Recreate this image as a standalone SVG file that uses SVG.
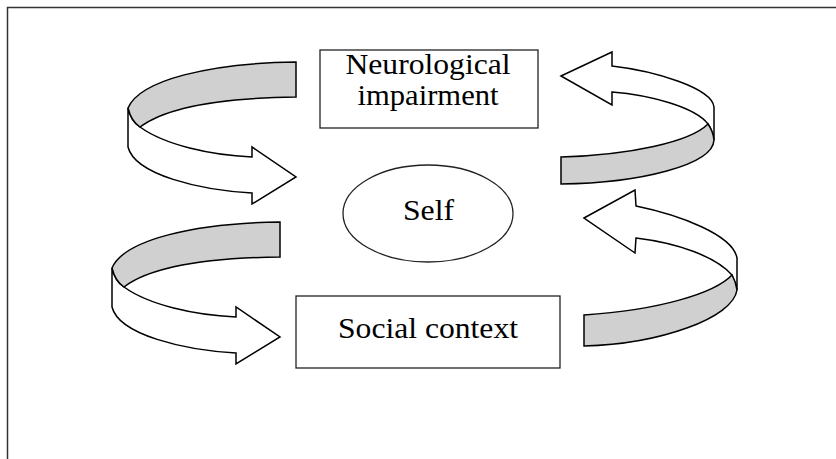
<svg xmlns="http://www.w3.org/2000/svg" width="836" height="459" viewBox="0 0 836 459">
<style>
.frame{fill:none;stroke:#333;stroke-width:1.5}
.box{fill:#fff;stroke:#222;stroke-width:1.3}
.face{fill:#fff;stroke:#000;stroke-width:1.5;stroke-linejoin:miter}
.band{fill:#d0d0d0;stroke:#000;stroke-width:1.5}
.lbl{font-family:"Liberation Serif","Times New Roman",serif;font-size:30px;fill:#000;text-anchor:middle}
</style>
<rect width="836" height="459" fill="#fff"/>
<path class="frame" d="M7.5,459 V7.5 H836"/>
<g id="connectors">
  <g id="arrow-tl">
    <path class="face" d="M128,108 L128,147 C135,175 200,190 252,193 L252,204 L296,177 L252,147 L252,157 C210,155 165,145 140,127 Q131,121 128,108 Z"/>
    <path class="band" d="M296,62 C210,63 140,80 128,108 Q131,121 140,127 C165,108 220,98 296,97 Z"/>
  </g>
  <g id="arrow-bl" transform="translate(-16,160)">
    <path class="face" d="M128,108 L128,147 C135,175 200,190 252,193 L252,204 L296,177 L252,147 L252,157 C210,155 165,145 140,127 Q131,121 128,108 Z"/>
    <path class="band" d="M296,62 C210,63 140,80 128,108 Q131,121 140,127 C165,108 220,98 296,97 Z"/>
  </g>
  <g id="arrow-tr">
    <path class="face" d="M561,76 L612,52 L612,66 C655,71 712,88 714,107 L714,140 Q712,130 708,124 C695,107 650,95 612,92 L612,105 Z"/>
    <path class="band" d="M561,157 C630,155 690,142 708,124 Q713,131 714,140 C713,165 640,183 561,184 Z"/>
  </g>
  <g id="arrow-br">
    <path class="face" d="M584,218 L635,190 L636,206 C680,215 733,235 737,258 L737,290 Q735,281 732,275 C715,256 677,243 636,238 L635,253 Z"/>
    <path class="band" d="M584,315 C660,310 715,293 732,275 Q736,282 737,290 C733,318 660,344 584,346 Z"/>
  </g>
</g>
<g id="node-neuro">
  <rect class="box" x="320" y="50" width="218" height="78"/>
  <text class="lbl" x="428" y="74" textLength="165" lengthAdjust="spacingAndGlyphs">Neurological</text>
  <text class="lbl" x="428" y="105" textLength="141" lengthAdjust="spacingAndGlyphs">impairment</text>
</g>
<g id="node-self">
  <ellipse class="box" cx="428" cy="213.5" rx="85" ry="48.5"/>
  <text class="lbl" x="428.5" y="220" textLength="51" lengthAdjust="spacingAndGlyphs">Self</text>
</g>
<g id="node-social">
  <rect class="box" x="296" y="296" width="264" height="72"/>
  <text class="lbl" x="428" y="338" textLength="180" lengthAdjust="spacingAndGlyphs">Social context</text>
</g>
</svg>
